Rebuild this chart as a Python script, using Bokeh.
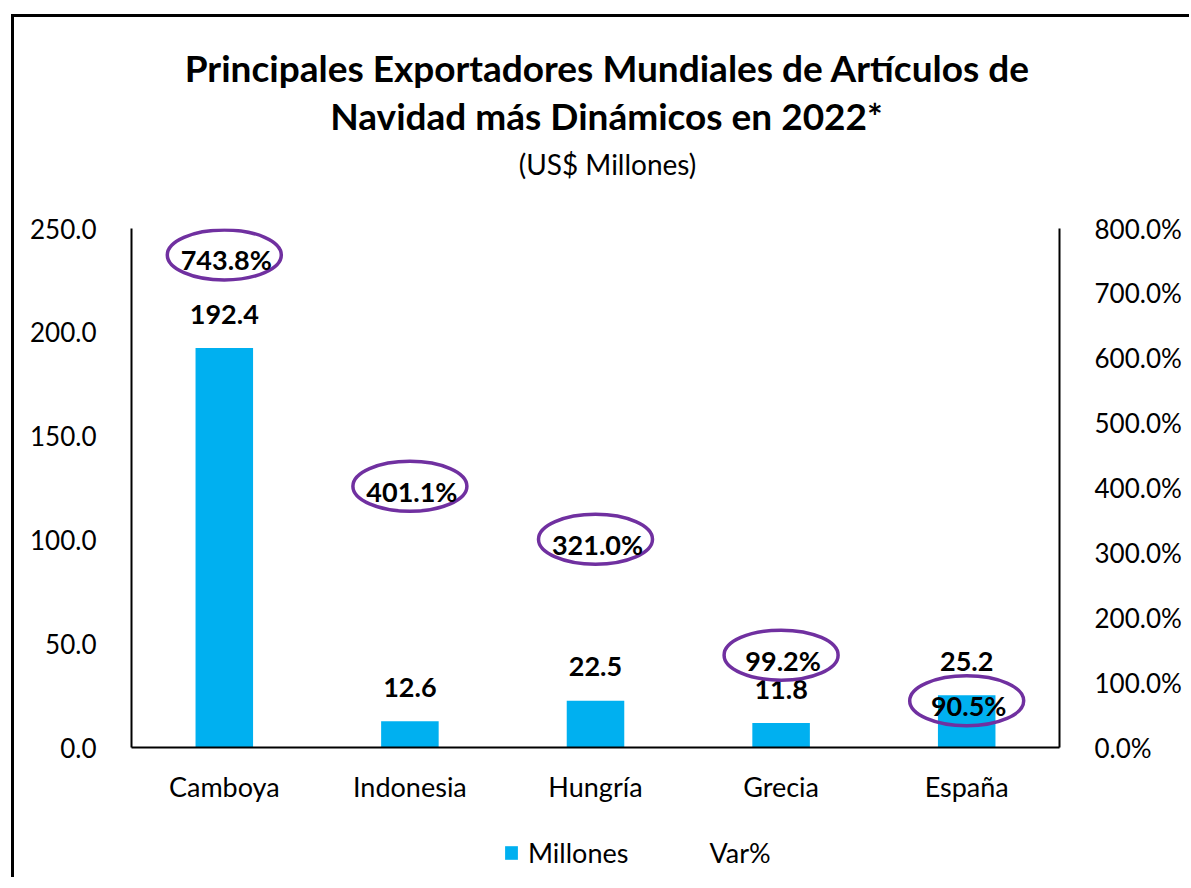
from bokeh.plotting import figure
from bokeh.layouts import column
from bokeh.models import (ColumnDataSource, Range1d, LinearAxis, FixedTicker,
                          PrintfTickFormatter, Label, Legend, LegendItem, FactorRange)
from bokeh.core.properties import value
from bokeh.embed import file_html
from bokeh.resources import INLINE

# ---------------- data ----------------
countries = ["Camboya", "Indonesia", "Hungría", "Grecia", "España"]
millones = [192.4, 12.6, 22.5, 11.8, 25.2]
var_pct = [743.8, 401.1, 321.0, 99.2, 90.5]
left_ticks = [0, 50, 100, 150, 200, 250]
right_ticks = [0, 100, 200, 300, 400, 500, 600, 700, 800]
title_line1 = "Principales Exportadores Mundiales de Artículos de"
title_line2 = "Navidad más Dinámicos en 2022*"
subtitle = "(US$ Millones)"
legend_labels = ["Millones", "Var%"]

# label placement tweaks (pixels, positive = up) for the Var% bubbles
var_shift_px = [10, 1, 0, 28, -12]

# ---------------- layout ----------------
W = 1175
ML, MR = 117, 130
TITLE_H = 191
MT, MB = 20, 70
FRAME_H = 519
H = MT + FRAME_H + MB
FONT = "Lato"
BAR_COLOR = "#00B0F0"
PURPLE = "#7030A0"

# ---------------- title strip ----------------
FRAME_W = W - ML - MR
tp = figure(width=W, height=TITLE_H, x_range=Range1d(0, FRAME_W),
            y_range=Range1d(0, TITLE_H), x_axis_type=None, y_axis_type=None,
            min_border_left=ML, min_border_right=MR, min_border_top=0,
            min_border_bottom=0, outline_line_color=None, toolbar_location=None,
            output_backend="svg")
tp.xgrid.visible = False
tp.ygrid.visible = False
# (x, y) = centre of each text line, in px from the strip's bottom-left
tp.add_layout(Label(x=476, y=141, text=title_line1, text_align="center",
                    text_baseline="middle", text_font=FONT, text_font_style="bold",
                    text_font_size="37px", text_color="black"))
tp.add_layout(Label(x=475, y=93, text=title_line2, text_align="center",
                    text_baseline="middle", text_font=FONT, text_font_style="bold",
                    text_font_size="37px", text_color="black"))
tp.add_layout(Label(x=476, y=45, text=subtitle, text_align="center",
                    text_baseline="middle", text_font=FONT, text_font_style="normal",
                    text_font_size="28px", text_color="black"))

# ---------------- main chart ----------------
p = figure(width=W, height=H, x_range=FactorRange(factors=countries),
           y_range=Range1d(0, 250), output_backend="svg", toolbar_location=None,
           min_border_left=ML, min_border_right=MR, min_border_top=MT,
           min_border_bottom=MB, outline_line_color=None)
p.extra_y_ranges = {"pct": Range1d(0, 800)}
p.xgrid.grid_line_color = None
p.ygrid.grid_line_color = None

for ax in [p.xaxis[0], p.yaxis[0]]:
    ax.axis_line_color = "black"
    ax.axis_line_width = 2
    ax.major_tick_line_color = None
    ax.minor_tick_line_color = None
    ax.major_label_text_font = FONT
    ax.major_label_text_font_size = "26px"
    ax.major_label_text_color = "black"

p.xaxis[0].major_label_text_font_size = "27px"
p.yaxis[0].ticker = FixedTicker(ticks=left_ticks)
p.yaxis[0].formatter = PrintfTickFormatter(format="%.1f")
p.yaxis[0].major_label_standoff = 29
p.xaxis[0].major_label_standoff = 16

raxis = LinearAxis(y_range_name="pct", ticker=FixedTicker(ticks=right_ticks),
                   formatter=PrintfTickFormatter(format="%.1f%%"))
raxis.axis_line_color = "black"
raxis.axis_line_width = 2
raxis.major_tick_line_color = None
raxis.minor_tick_line_color = None
raxis.major_label_text_font = FONT
raxis.major_label_text_font_size = "26px"
raxis.major_label_text_color = "black"
raxis.major_label_standoff = 29
p.add_layout(raxis, "right")

scale = 800.0 / FRAME_H
var_pos = [v + s * scale for v, s in zip(var_pct, var_shift_px)]
src = ColumnDataSource(dict(
    x=countries, m=millones, v=var_pct, vpos=var_pos,
    mlab=["%.1f" % m for m in millones],
    vlab=["%.1f%%" % v for v in var_pct],
))

bars = p.vbar(x="x", top="m", width=0.31, source=src, fill_color=BAR_COLOR,
              line_color=None)

p.text(x="x", y="m", text="mlab", source=src, text_align="center",
       text_baseline="alphabetic", y_offset=-34, text_font=value(FONT),
       text_font_style="bold", text_font_size="27px", text_color="black")

p.ellipse(x="x", y="vpos", source=src, y_range_name="pct", width=114,
          height=50, width_units="screen", height_units="screen",
          fill_color=None, line_color=PURPLE, line_width=3.5)

p.text(x="x", y="vpos", text="vlab", source=src, y_range_name="pct",
       text_align="center", text_baseline="middle", y_offset=5, x_offset=2,
       text_font=value(FONT), text_font_style="bold", text_font_size="27px",
       text_color="black")

# ---------------- legend strip ----------------
lp = figure(width=W, height=60, x_range=p.x_range, y_range=Range1d(1e6, 1e6 + 1),
            x_axis_type=None, y_axis_type=None, min_border_left=ML,
            min_border_right=MR, min_border_top=0, min_border_bottom=0,
            outline_line_color=None, toolbar_location=None, output_backend="svg")
lp.xgrid.visible = False
lp.ygrid.visible = False
leg_bar = lp.vbar(x="x", top="m", width=0.31, source=src, fill_color=BAR_COLOR,
                  line_color=None)
leg_var = lp.scatter(x="x", y="v", source=src, size=0, fill_alpha=0, line_alpha=0)

legend = Legend(items=[LegendItem(label=legend_labels[0], renderers=[leg_bar]),
                       LegendItem(label=legend_labels[1], renderers=[leg_var])],
                orientation="horizontal", location=(372, 8))
legend.glyph_width = 16
legend.glyph_height = 17
legend.label_text_font = FONT
legend.label_text_font_size = "27px"
legend.label_text_color = "black"
legend.label_standoff = 9
legend.spacing = 56
legend.padding = 0
legend.margin = 0
legend.border_line_color = None
legend.background_fill_alpha = 0
lp.add_layout(legend, "center")

layout = column(tp, p, lp, styles={"margin-left": "11px", "margin-top": "14px",
                                   "border-left": "3px solid black",
                                   "border-top": "3px solid black"})

open("out.html", "w").write(file_html(layout, INLINE))
